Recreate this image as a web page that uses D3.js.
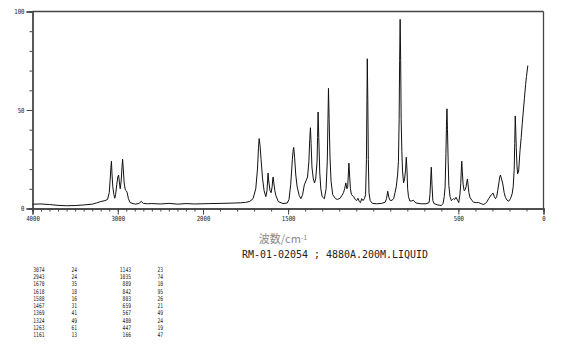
<!DOCTYPE html>
<html>
<head>
<meta charset="utf-8">
<script src="https://cdn.jsdelivr.net/npm/d3@7"></script>
<style>
  body { margin: 0; background: #fff; }
  svg { display: block; }
</style>
</head>
<body>
<svg id="svg" width="570" height="346"></svg>
<script>
// spectrum: wavenumber (cm-1) and relative intensity
var wavenumber = [4000,3900,3800,3700,3600,3500,3400,3300,3250,3200,3150,3120,3100,3090,3080,3074,3068,3058,3045,3035,
  3025,3012,3000,2990,2980,2971,2960,2950,2943,2935,2925,2912,2900,2889,2875,2855,2820,2790,2750,2725,
  2700,2650,2600,2500,2400,2300,2200,2100,2000,1960,1900,1840,1780,1750,1725,1706,1690,1680,1674,1670,
  1665,1659,1650,1641,1631,1624,1620,1618,1614,1606,1600,1594,1590,1588,1584,1578,1572,1558,1530,1505,
  1495,1485,1475,1470,1467,1462,1455,1447,1435,1425,1415,1405,1395,1386,1378,1373,1369,1365,1360,1352,
  1345,1338,1330,1327,1324,1320,1314,1308,1300,1287,1277,1270,1266,1263,1259,1254,1248,1238,1222,1210,
  1195,1185,1175,1168,1161,1155,1150,1146,1143,1139,1134,1128,1115,1105,1098,1090,1082,1075,1068,1060,
  1052,1045,1040,1037,1035,1032,1029,1025,1018,1005,980,950,930,922,915,908,900,890,880,872,
  865,857,852,848,845,842,839,836,832,828,822,816,810,806,802,798,793,785,775,765,
  750,720,690,672,667,663,659,655,650,643,620,600,590,583,578,573,570,567,564,560,
  556,549,541,535,528,521,514,505,498,491,486,483,480,477,472,466,460,455,451,447,
  443,438,432,420,410,395,381,365,351,335,322,306,296,289,282,275,269,262,257,253,
  248,239,231,224,214,204,194,184,178,172,169,166,163,160,156,152,146,138,131,125,
  118,112,105,100,92];
var intensity = [2.2,2.3,2.0,1.6,1.4,1.5,1.8,2.2,2.8,3.5,4.0,4.6,8,14,21,24,18,11,7,5.2,
  7,12,16,17,13,10,14,21,25,20,13,9.5,9,8,5,3,2.5,2.2,2.6,3.6,
  2.6,2.4,2.5,2.3,2.6,2.2,2.5,2.3,2.4,2.5,2.6,2.7,2.9,3.1,3.6,5,10,20,31,35.5,
  32,25,15,9,6,9,15,18,14,9,8,11,15,16,13,9,6.6,3.5,2.5,2.8,
  4.5,12,25,30,31,26,17,11,6.6,5,7,12,14,16,24,35,41,33,21,15,
  13,15,24,36,49,36,18,10,6,5,10,24,45,61,45,26,14,7,5,4.6,
  5.2,6.5,8,10,13,10,11,18,23,17,10,7,6,4.5,4,5.2,3.5,3,5,4,
  5,7,25,55,76,55,25,8,4,2.6,2.4,2.6,3.2,5,8.8,5.5,4,4.2,5,8,
  11,17,24,45,75,96,75,45,29,19,13,15,20,26,20,10,6,3.8,3.8,4.2,
  2.8,2.4,2.4,3,7,14,21,12,4,2.5,1.8,1.5,2.5,6,11,28,42,50.6,40,24,
  11.7,6,4,4.5,5,4.6,5.7,4.2,3,7,12.7,19,24,19,12,9,9.5,11,13,15,
  12,8,5.7,4,3.2,3,3,2.4,2,3,5,7,7.8,6,5,6,9,13,16,17,
  15.5,12.5,8,5.7,4.2,3.7,5,7.5,11,20,33,47,40,31,22,17.6,19,29.4,36,43,
  50,56,63,67,72.6];

// peak table (two column pairs)
var peakWnA = ["3074","2943","1670","1618","1588","1467","1369","1324","1263","1161"];
var peakIntA = ["24","24","35","18","16","31","41","49","61","13"];
var peakWnB = ["1143","1035","889","842","803","659","567","480","447","166"];
var peakIntB = ["23","74","10","95","26","21","49","24","19","47"];

// axis ticks
var xMinorTicks = d3.range(0, 4001, 100);
var xLabelTicks = [4000, 3000, 2000, 1500, 500, 0];
var yMinorTicks = d3.range(0, 101, 10);
var yLabelTicks = [0, 50, 100];

var svg = d3.select("#svg");

// scale is compressed above 2000 cm-1 like the original plotter output
var x = d3.scaleLinear().domain([4000, 2000, 0]).range([32.5, 203, 543.5]);
var y = d3.scaleLinear().domain([0, 100]).range([208.5, 11.5]);

var axisColor = "#444";

//////// FRAME ////////
svg.append("line").attr("x1", x(4000)).attr("x2", x(0)).attr("y1", y(100)).attr("y2", y(100))
  .attr("stroke", axisColor).attr("stroke-width", 1.3);
svg.append("line").attr("x1", x(0)).attr("x2", x(0)).attr("y1", y(100)).attr("y2", y(0))
  .attr("stroke", axisColor).attr("stroke-width", 1.3);

//////// X AXIS ////////
var gx = svg.append("g").attr("transform", "translate(0," + y(0) + ")");
gx.call(d3.axisBottom(x).tickValues(xMinorTicks).tickSize(3).tickFormat(""));
var gx2 = svg.append("g").attr("transform", "translate(0," + y(0) + ")");
gx2.call(d3.axisBottom(x).tickValues(xLabelTicks).tickSize(6).tickPadding(2).tickFormat(d3.format("d")));

//////// Y AXIS ////////
var gy = svg.append("g").attr("transform", "translate(" + x(4000) + ",0)");
gy.call(d3.axisLeft(y).tickValues(yMinorTicks).tickSize(3).tickFormat(""));
var gy2 = svg.append("g").attr("transform", "translate(" + x(4000) + ",0)");
gy2.call(d3.axisLeft(y).tickValues(yLabelTicks).tickSize(6).tickPadding(2).tickFormat(d3.format("d")));

svg.selectAll(".domain").attr("stroke", axisColor).attr("stroke-width", 1.3);
svg.selectAll(".tick line").attr("stroke", axisColor);
svg.selectAll(".tick text")
  .attr("fill", "#222")
  .style("font-family", "'DejaVu Sans Mono', monospace")
  .style("font-size", "7px")
  .attr("lengthAdjust", "spacingAndGlyphs")
  .attr("textLength", function(d) { return String(d).length * 3.4; });

//////// SPECTRUM ////////
var pts = wavenumber.map(function(w, i) { return [w, intensity[i]]; });
var line = d3.line()
  .x(function(d) { return x(d[0]); })
  .y(function(d) { return y(d[1]); });
svg.append("path")
  .datum(pts)
  .attr("d", line)
  .attr("fill", "none")
  .attr("stroke", "#111")
  .attr("stroke-width", 1)
  .attr("stroke-linejoin", "round");

//////// TITLES ////////
var xt = svg.append("text")
  .attr("x", 283)
  .attr("y", 243)
  .attr("text-anchor", "middle")
  .attr("fill", "#8a8a8a")
  .style("font-family", "'Noto Sans CJK JP', 'Noto Sans CJK SC', sans-serif")
  .style("font-size", "11px");
xt.append("tspan").text("波数/cm");
xt.append("tspan").attr("dy", -3).style("font-size", "7px").text("-1");

svg.append("text")
  .attr("x", 335)
  .attr("y", 258)
  .attr("text-anchor", "middle")
  .attr("fill", "#222")
  .style("font-family", "'DejaVu Sans Mono', monospace")
  .style("font-size", "10px")
  .attr("lengthAdjust", "spacingAndGlyphs")
  .attr("textLength", 186)
  .text("RM-01-02054 ; 4880A.200M.LIQUID");

//////// PEAK TABLE ////////
var rowY = d3.scaleLinear().domain([0, 9]).range([272, 337]);
var cols = [
  { vals: peakWnA, right: 44.5 },
  { vals: peakIntA, right: 77 },
  { vals: peakWnB, right: 131 },
  { vals: peakIntB, right: 163 }
];
cols.forEach(function(c) {
  svg.append("g").selectAll("text").data(c.vals).enter()
    .append("text")
    .attr("x", c.right)
    .attr("y", function(d, i) { return rowY(i); })
    .attr("text-anchor", "end")
    .attr("fill", "#222")
    .style("font-family", "'DejaVu Sans Mono', monospace")
    .style("font-size", "6.5px")
    .attr("lengthAdjust", "spacingAndGlyphs")
    .attr("textLength", function(d) { return d.length * 2.8; })
    .text(function(d) { return d; });
});
</script>
</body>
</html>
